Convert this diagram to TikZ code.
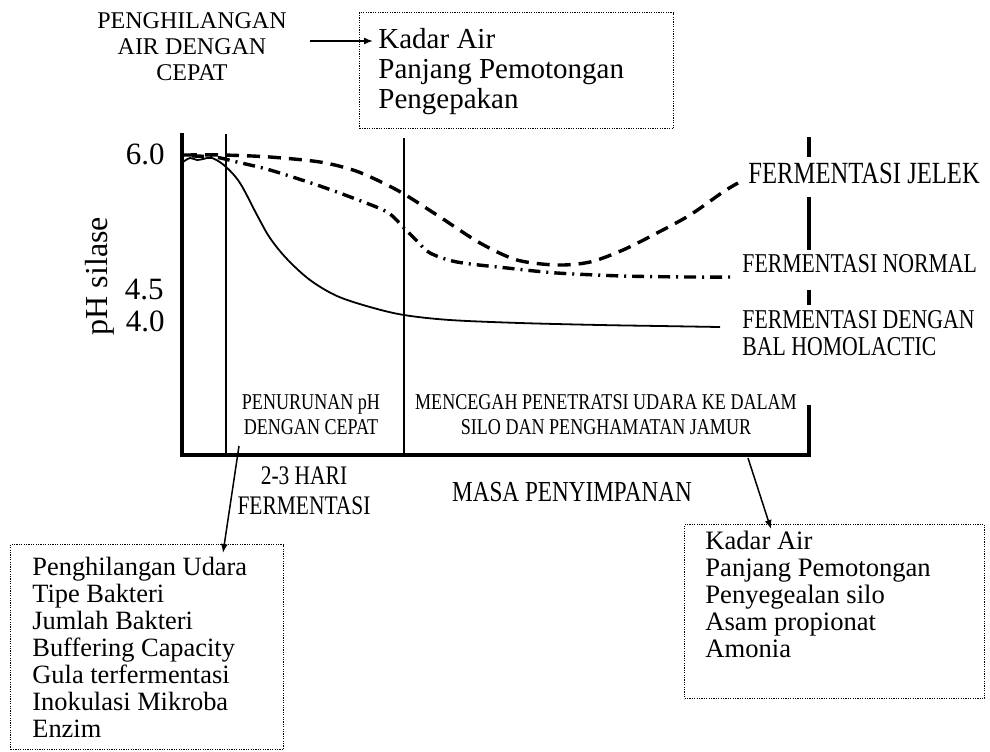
\documentclass[tikz,border=0pt]{standalone}
\usepackage{fontspec}
\setmainfont{Liberation Serif}
\newfontfamily\narrowfont[FakeStretch=0.8]{Liberation Serif}
\usetikzlibrary{positioning,arrows.meta}
\tikzset{
  dotbox/.style={draw, dash pattern=on 0.6pt off 0.6pt, line width=0.6pt, inner sep=0pt, anchor=north west},
  boxtext/.style={inner sep=0pt, align=left},
  curvelabel/.style={fill=white, inner xsep=2pt, inner ysep=0pt, anchor=base west},
  phvalue/.style={anchor=east, inner sep=0pt, font=\fontsize{15.5}{16}\selectfont},
  arr/.style={line width=0.75pt, -{Latex[length=4.5pt,width=3.5pt]}},
}
\begin{document}
\begin{tikzpicture}[x=0.5pt,y=-0.5pt]
      \useasboundingbox (0,0) rectangle (990,751);
      \draw[line width=1.8pt] (182,133) -- (182,455) -- (809,455) -- (809,137);
      \draw[line width=0.8pt] (226,134) -- (226,455) (404,138) -- (404,455);
      \begin{scope}[line cap=butt]
        \draw[line width=0.9pt] plot[smooth, tension=0.55] coordinates {
          (183,162) (190,158) (197,160) (203,159) (212,158) (225,166) (240,183)
          (257,215) (270,238) (287,259) (310,280) (337,296) (370,307) (404,315)
          (450,320) (520,323) (600,325) (660,326) (720,327)};
        \draw[line width=1.7pt, dash pattern=on 6.5pt off 4pt] plot[smooth] coordinates {
          (184,155) (223,155) (270,157) (320,162) (353,170) (377,180) (404,194)
          (440,217) (480,243) (517,260) (557,265) (590,262) (623,250) (657,233)
          (690,215) (723,192) (738,183)};
        \draw[line width=1.7pt, dash pattern=on 6pt off 3pt on 1pt off 3pt] plot[smooth] coordinates {
          (192,156) (215,157) (237,162) (270,170) (317,185) (353,198) (387,212)
          (404,228) (417,241) (430,253) (457,262) (507,268) (557,273) (623,276)
          (690,277) (735,277)};
      \end{scope}
      \draw
        (744,183) node[curvelabel, text height=13pt, text depth=7pt,
          font=\narrowfont\fontsize{15.4}{16}\selectfont] (jelek){FERMENTASI JELEK}
        (738,272) node[curvelabel, text height=11pt, text depth=9pt,
          font=\narrowfont\fontsize{13.6}{14}\selectfont] (normal){FERMENTASI NORMAL}
        (738,328) node[curvelabel, text height=11.5pt, text depth=3.5pt,
          font=\narrowfont\fontsize{13.6}{14}\selectfont] (homo){FERMENTASI DENGAN}
        (738,355) node[curvelabel, text height=10pt, text depth=25pt,
          font=\narrowfont\fontsize{13.6}{14}\selectfont] (bal){BAL HOMOLACTIC};
      \draw
        (165,154) node[phvalue] (six){6.0}
        (164,290) node[phvalue] (fourfive){4.5}
        (165,321) node[phvalue] (four){4.0}
        (100,276) node[rotate=90, font=\fontsize{16}{16}\selectfont] (phaxis){pH silase};
      \draw
        (311,414.5) node[align=center, inner sep=0pt,
          font=\narrowfont\fontsize{11.3}{12.5}\selectfont] (drop){PENURUNAN pH\\DENGAN CEPAT}
        (606,414.5) node[align=center, inner sep=0pt,
          font=\narrowfont\fontsize{11.3}{12.5}\selectfont] (prevent){MENCEGAH PENETRATSI UDARA KE DALAM\\SILO DAN PENGHAMATAN JAMUR}
        (304,491) node[align=center, inner sep=0pt,
          font=\narrowfont\fontsize{13.4}{15}\selectfont] (days){2-3 HARI\\FERMENTASI}
        (572,492) node[inner sep=0pt,
          font=\narrowfont\fontsize{14.5}{15}\selectfont] (storage){MASA PENYIMPANAN}
        (192,46.5) node[align=center, inner sep=0pt,
          font=\fontsize{12}{13}\selectfont] (airloss){PENGHILANGAN\\AIR DENGAN\\CEPAT};
      \node[dotbox, minimum width=157pt, minimum height=58pt] (topbox) at (359,12) {};
      \node[boxtext, font=\fontsize{14.5}{15}\selectfont,
        below right=8pt and 9.5pt of topbox.north west] (topitems)
        {Kadar Air\\Panjang Pemotongan\\Pengepakan};
      \node[dotbox, minimum width=136.5pt, minimum height=102.5pt] (leftbox) at (10,544) {};
      \node[boxtext, font=\fontsize{13.2}{13.5}\selectfont,
        below right=6.5pt and 11pt of leftbox.north west] (leftitems)
        {Penghilangan Udara\\Tipe Bakteri\\Jumlah Bakteri\\Buffering Capacity\\Gula terfermentasi\\Inokulasi Mikroba\\Enzim};
      \node[dotbox, minimum width=150pt, minimum height=87pt] (rightbox) at (684,524) {};
      \node[boxtext, font=\fontsize{13.3}{13.5}\selectfont,
        below right=3.5pt and 10.5pt of rightbox.north west] (rightitems)
        {Kadar Air\\Panjang Pemotongan\\Penyegealan silo\\Asam propionat\\Amonia};
      \coordinate (topin) at (373,41);
      \coordinate (drophint) at (239,446);
      \coordinate (leftin) at (223,553);
      \coordinate (storehint) at (748,458);
      \coordinate (rightin) at (771,529);
      \begin{scope}[arr]
        \draw[shorten <=11.5pt] (airloss.east |- topin) to (topin);
        \draw (drophint) to (leftin);
        \draw (storehint) to (rightin);
      \end{scope}
    \end{tikzpicture}
\end{document}
